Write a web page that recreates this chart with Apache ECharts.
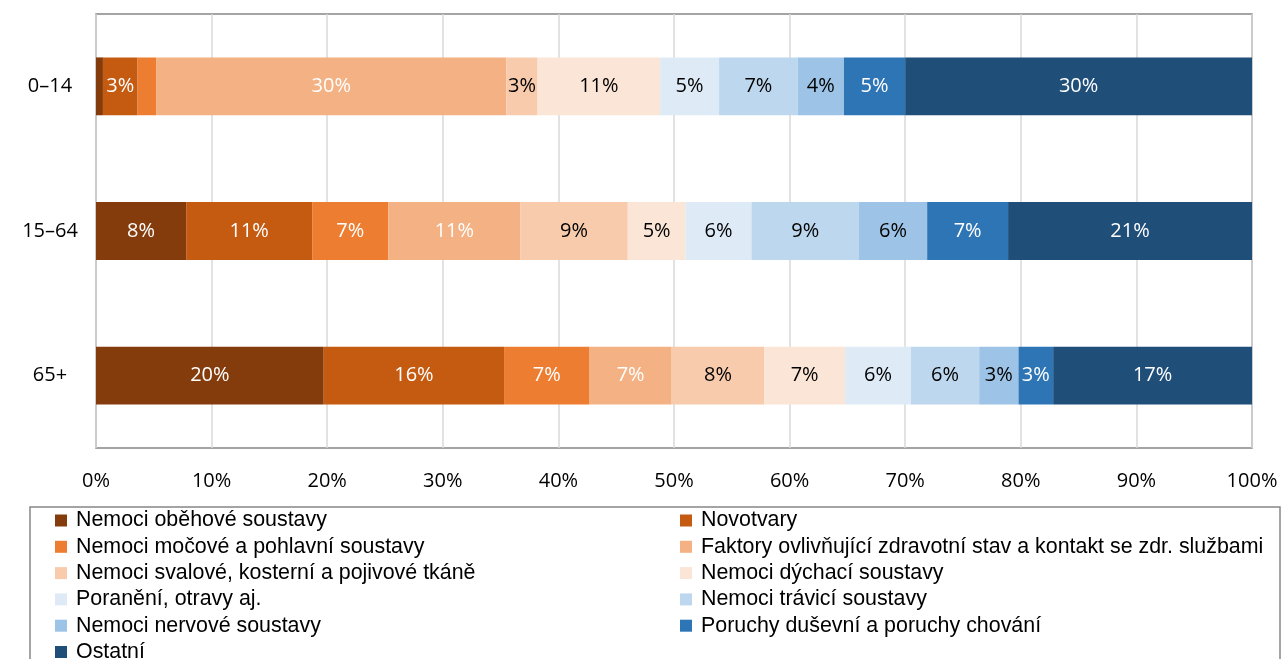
<!DOCTYPE html>
<html>
<head>
<meta charset="utf-8">
<script src="https://cdn.jsdelivr.net/npm/echarts@6/dist/echarts.min.js"></script>
<style>
  html, body { margin: 0; padding: 0; background: #ffffff; }
  #chart { width: 1281px; height: 659px; }
</style>
</head>
<body>
<div id="chart"></div>
<script>
// Age groups (top to bottom)
const ageGroups = ['0–14', '15–64', '65+'];

// Diagnosis groups, in stacking order
const seriesNames = [
  'Nemoci oběhové soustavy',
  'Novotvary',
  'Nemoci močové a pohlavní soustavy',
  'Faktory ovlivňující zdravotní stav a kontakt se zdr. službami',
  'Nemoci svalové, kosterní a pojivové tkáně',
  'Nemoci dýchací soustavy',
  'Poranění, otravy aj.',
  'Nemoci trávicí soustavy',
  'Nemoci nervové soustavy',
  'Poruchy duševní a poruchy chování',
  'Ostatní'
];

// Shares (%) per age group, one value per diagnosis group
const share0to14  = [0.6, 3.0, 1.6, 30.3, 2.7, 10.6, 5.1, 6.8, 4.0, 5.3, 30.0];
const share15to64 = [7.8, 10.9, 6.6, 11.4, 9.3, 5.0, 5.7, 9.3, 5.9, 7.0, 21.1];
const share65plus = [19.7, 15.6, 7.4, 7.1, 8.0, 7.0, 5.7, 5.9, 3.4, 3.0, 17.2];

const xTicks = [0, 10, 20, 30, 40, 50, 60, 70, 80, 90, 100];

const colors = [
  '#843C0C', '#C55A11', '#ED7D31', '#F4B183', '#F8CBAD', '#FBE5D6',
  '#DEEBF7', '#BDD7EE', '#9DC3E6', '#2E75B6', '#1F4E79'
];
const labelColors = [
  '#ffffff', '#ffffff', '#ffffff', '#ffffff', '#000000', '#000000',
  '#000000', '#000000', '#000000', '#ffffff', '#ffffff'
];

const rows = [share0to14, share15to64, share65plus];

const series = seriesNames.map((name, i) => ({
  name: name,
  type: 'bar',
  stack: 'total',
  barCategoryGap: '60%',
  data: rows.map(r => r[i]),
  itemStyle: { color: colors[i] },
  label: {
    show: true,
    position: 'inside',
    color: labelColors[i],
    fontFamily: 'Open Sans',
    fontSize: 20,
    formatter: p => (p.value < 2.5 ? '' : Math.round(p.value) + '%')
  },
  emphasis: { disabled: true }
}));

// Legend: two columns, read row by row
const legendTextStyle = {
  fontFamily: 'Liberation Sans', fontSize: 21.4, lineHeight: 21,
  color: '#000000', padding: [0, 0, 0, 4]
};
const leftCol = seriesNames.filter((_, i) => i % 2 === 0);
const rightCol = seriesNames.filter((_, i) => i % 2 === 1);
const legendCommon = {
  orient: 'vertical', top: 510, height: 200, padding: 0,
  itemWidth: 12, itemHeight: 12, itemGap: 5.3, icon: 'rect',
  selectedMode: false, textStyle: legendTextStyle
};

const chart = echarts.init(document.getElementById('chart'), null, { renderer: 'canvas' });
chart.setOption({
  animation: false,
  color: colors,
  grid: {
    left: 96, right: 29, top: 14, bottom: 211,
    show: true, borderColor: '#878787', borderWidth: 1.5, containLabel: false
  },
  xAxis: {
    type: 'value',
    min: xTicks[0],
    max: xTicks[xTicks.length - 1],
    interval: 10,
    axisLine: { show: false },
    axisTick: { show: false },
    splitLine: { show: true, lineStyle: { color: '#d9d9d9', width: 1.5 } },
    axisLabel: {
      margin: 23,
      fontFamily: 'Open Sans',
      fontSize: 20,
      color: '#000000',
      formatter: v => v + '%'
    }
  },
  yAxis: {
    type: 'category',
    data: ageGroups,
    inverse: true,
    axisLine: { show: false },
    axisTick: { show: false },
    splitLine: { show: false },
    axisLabel: {
      margin: 46,
      align: 'center',
      fontFamily: 'Open Sans',
      fontSize: 20,
      color: '#000000'
    }
  },
  legend: [
    Object.assign({ data: leftCol, left: 55 }, legendCommon),
    Object.assign({ data: rightCol, left: 680 }, legendCommon)
  ],
  graphic: [{
    type: 'rect',
    shape: { x: 30, y: 507, width: 1250, height: 200 },
    style: { fill: 'none', stroke: '#878787', lineWidth: 1.5 },
    silent: true,
    z: -1
  }],
  series: series
});
</script>
</body>
</html>
